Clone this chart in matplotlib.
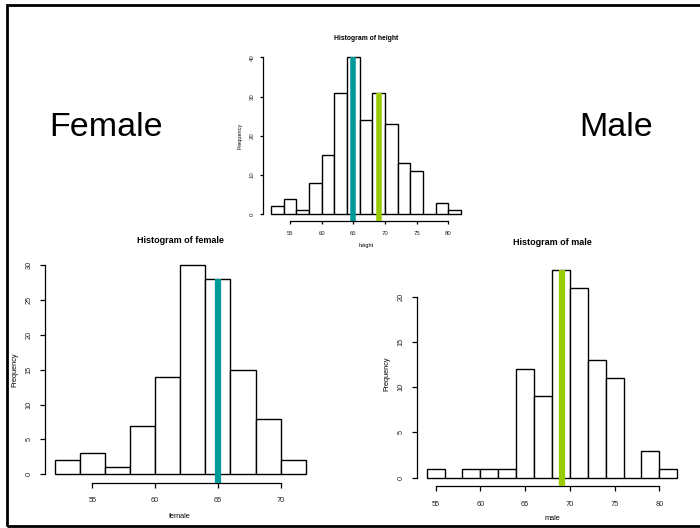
import matplotlib
matplotlib.use("Agg")
import matplotlib.pyplot as plt
import numpy as np
from matplotlib.patches import Rectangle

plt.rcParams['font.family'] = ['Liberation Sans', 'DejaVu Sans']

# ---- data ----
height_edges = list(range(52, 84, 2))
height_counts = [2, 4, 1, 8, 15, 31, 40, 24, 31, 23, 13, 11, 0, 3, 1]
female_edges = list(range(52, 74, 2))
female_counts = [2, 3, 1, 7, 14, 30, 28, 15, 8, 2]
male_edges = list(range(54, 84, 2))
male_counts = [1, 0, 1, 1, 1, 12, 9, 23, 21, 13, 11, 0, 3, 1]
female_mean = 65.0
male_mean = 69.1
teal = '#009999'
green = '#99cc00'

W, H = 700, 528
fig = plt.figure(figsize=(W / 100, H / 100), dpi=100)

def px_axes(x0, x1, ytop, ybot):
    return fig.add_axes([x0 / W, (H - ybot) / H, (x1 - x0) / W, (ybot - ytop) / H])

def r_hist(ax, edges, counts, xticks, yticks, title, xlabel, fs_tick, fs_title, fs_lab,
           lines, ticklen=3.5, tpad=8, xpad=5, lpad=6, ypad=4, ylpad=6):
    edges = np.asarray(edges, float)
    counts = np.asarray(counts, float)
    ax.bar(edges[:-1], counts, width=np.diff(edges), align='edge',
           facecolor='white', edgecolor='black', linewidth=1.0, zorder=2)
    xr = edges[-1] - edges[0]
    ax.set_xlim(edges[0] - 0.04 * xr, edges[-1] + 0.04 * xr)
    ymax = counts.max()
    ax.set_ylim(-0.04 * ymax, ymax * 1.04)
    ybot = -0.04 * ymax
    for xm, col, lw in lines:
        idx = np.searchsorted(edges, xm, side='right') - 1
        ax.plot([xm, xm], [ybot, counts[idx]], color=col, linewidth=lw,
                solid_capstyle='butt', zorder=3, clip_on=False)
    for s in ['top', 'right']:
        ax.spines[s].set_visible(False)
    ax.spines['bottom'].set_bounds(xticks[0], xticks[-1])
    ax.spines['left'].set_bounds(yticks[0], yticks[-1])
    for s in ['bottom', 'left']:
        ax.spines[s].set_linewidth(0.9)
    ax.set_xticks(xticks)
    ax.set_yticks(yticks)
    ax.set_xticklabels([str(t) for t in xticks], fontsize=fs_tick, color='#222222')
    ax.set_yticklabels([str(t) for t in yticks], fontsize=fs_tick, color='#222222',
                       rotation=90, va='center')
    ax.tick_params(length=ticklen, width=0.9, direction='out')
    ax.tick_params(axis='x', pad=xpad)
    ax.tick_params(axis='y', pad=ypad)
    ax.set_title(title, fontsize=fs_title, fontweight='bold', pad=tpad)
    ax.set_xlabel(xlabel, fontsize=fs_lab, labelpad=lpad)
    ax.set_ylabel('Frequency', fontsize=fs_lab, labelpad=ylpad)
    ax.patch.set_alpha(0)

# top: height
ax_top = px_axes(263.4, 468.6, 51.0, 220.6)
r_hist(ax_top, height_edges, height_counts, [55, 60, 65, 70, 75, 80], [0, 10, 20, 30, 40],
       'Histogram of height', 'height', 4.3, 4.9, 4.0,
       [(female_mean, teal, 4.0), (male_mean, green, 4.0)], ticklen=2.5,
       tpad=8, xpad=5, lpad=5, ypad=4, ylpad=5)

# female
ax_f = px_axes(44.6, 315.8, 256.9, 482.7)
r_hist(ax_f, female_edges, female_counts, [55, 60, 65, 70], [0, 5, 10, 15, 20, 25, 30],
       'Histogram of female', 'female', 5.3, 6.5, 5.3,
       [(female_mean, teal, 4.5)], tpad=10, xpad=7, lpad=6, ypad=5, ylpad=5.5)

# male
ax_m = px_axes(416.7, 687.2, 261.2, 486.0)
r_hist(ax_m, male_edges, male_counts, [55, 60, 65, 70, 75, 80], [0, 5, 10, 15, 20],
       'Histogram of male', 'male', 5.3, 6.5, 5.3,
       [(male_mean, green, 4.5)], tpad=11.5, xpad=7, lpad=5, ypad=5, ylpad=5.5)

fig.text(106 / W, 1 - 127 / H, 'Female', fontsize=24.5, ha='center', va='center')
fig.text(616 / W, 1 - 127 / H, 'Male', fontsize=24.5, ha='center', va='center')

# outer frame
fig.patches.append(Rectangle((7 / W, 1 - 526 / H), (704 - 7) / W, (526 - 5) / H,
                             transform=fig.transFigure, fill=False, edgecolor='black',
                             linewidth=2.0))

fig.savefig('out.png', dpi=100)
